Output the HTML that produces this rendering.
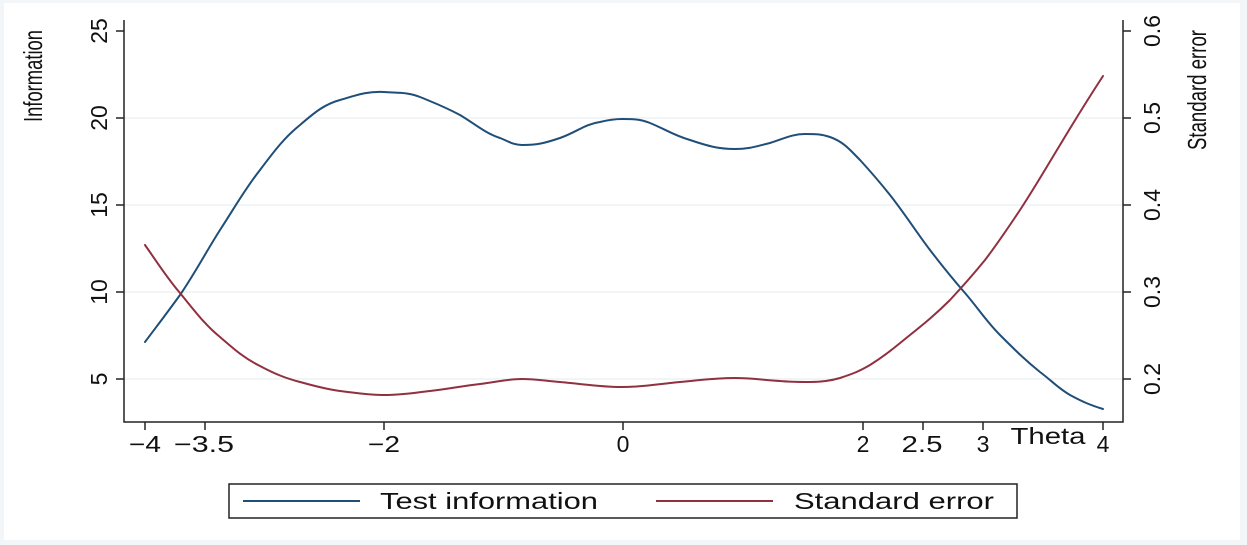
<!DOCTYPE html>
<html><head><style>body{margin:0;background:#fff}svg{display:block}</style></head><body>
<svg width="1247" height="545" xmlns="http://www.w3.org/2000/svg" font-family="Liberation Sans, sans-serif">
<rect x="0" y="0" width="1247" height="545" fill="#f3f6f8"/>
<rect x="4" y="3" width="1236" height="537" fill="#fff"/>
<g stroke="#eef2f4" stroke-width="1.5">
<line x1="124" y1="118" x2="1122" y2="118"/><line x1="124" y1="205" x2="1122" y2="205"/>
<line x1="124" y1="292" x2="1122" y2="292"/><line x1="124" y1="379" x2="1122" y2="379"/>
</g>
<g stroke="#222" stroke-width="1.5" fill="none">
<polyline points="124,20 124,422 1123,422 1123,20"/>
<line x1="116" y1="31" x2="124" y2="31"/><line x1="116" y1="118" x2="124" y2="118"/><line x1="116" y1="205" x2="124" y2="205"/><line x1="116" y1="292" x2="124" y2="292"/><line x1="116" y1="379" x2="124" y2="379"/>
<line x1="1123" y1="31" x2="1131" y2="31"/><line x1="1123" y1="118" x2="1131" y2="118"/><line x1="1123" y1="205" x2="1131" y2="205"/><line x1="1123" y1="292" x2="1131" y2="292"/><line x1="1123" y1="379" x2="1131" y2="379"/>
<line x1="145" y1="422" x2="145" y2="430"/><line x1="205" y1="422" x2="205" y2="430"/><line x1="384" y1="422" x2="384" y2="430"/><line x1="623" y1="422" x2="623" y2="430"/><line x1="863" y1="422" x2="863" y2="430"/><line x1="923" y1="422" x2="923" y2="430"/><line x1="983" y1="422" x2="983" y2="430"/><line x1="1103" y1="422" x2="1103" y2="430"/>
</g>
<g font-size="23" fill="#111" text-anchor="middle">
<text x="145" y="452" textLength="32" lengthAdjust="spacingAndGlyphs">−4</text><text x="204" y="452" textLength="60" lengthAdjust="spacingAndGlyphs">−3.5</text><text x="384" y="452" textLength="32" lengthAdjust="spacingAndGlyphs">−2</text><text x="623" y="452">0</text><text x="863" y="452">2</text><text x="922" y="452" textLength="41" lengthAdjust="spacingAndGlyphs">2.5</text><text x="983" y="452">3</text><text x="1103" y="452">4</text>
<text x="1048" y="444" textLength="75" lengthAdjust="spacingAndGlyphs">Theta</text>
</g>
<g font-size="23" fill="#111" text-anchor="middle">
<text transform="translate(107,31) rotate(-90)">25</text><text transform="translate(107,118) rotate(-90)">20</text><text transform="translate(107,205) rotate(-90)">15</text><text transform="translate(107,292) rotate(-90)">10</text><text transform="translate(107,379) rotate(-90)">5</text>
<text transform="translate(1160,31) rotate(-90)">0.6</text><text transform="translate(1160,118) rotate(-90)">0.5</text><text transform="translate(1160,205) rotate(-90)">0.4</text><text transform="translate(1160,292) rotate(-90)">0.3</text><text transform="translate(1160,379) rotate(-90)">0.2</text>
<text transform="translate(42,76) rotate(-90)" font-size="26" textLength="92" lengthAdjust="spacingAndGlyphs">Information</text>
<text transform="translate(1206,90) rotate(-90)" font-size="26" textLength="120" lengthAdjust="spacingAndGlyphs">Standard error</text>
</g>
<g fill="none" stroke-width="2" stroke-linecap="round">
<path stroke="#1f4e79" d="M145,342 C160,322 167,313 180,295 C195,273 206,252 220,230 C235,207 245,189 260,170 C275,150 285,137 300,125 C315,112 325,104 340,100 C357,95 368,91 384,92 C398,93 408,92 420,97 C437,104 443,106 460,115 C475,124 485,133 500,138 C508,141 513,145 522,145 C538,145 545,143 560,138 C577,132 585,124 600,122 C608,120 614,119 622,119 C633,119 640,119 650,123 C667,130 673,135 690,140 C708,146 718,149 735,149 C750,149 757,146 770,143 C783,139 792,134 805,134 C816,134 821,134 830,137 C844,142 850,150 860,160 C872,173 878,180 890,195 C905,214 917,233 930,250 C943,267 951,277 965,293 C978,308 986,321 1000,335 C1015,350 1025,360 1040,372 C1052,381 1058,388 1070,395 C1083,402 1090,405 1103,409"/>
<path stroke="#903040" d="M145,245 C157,262 167,278 180,293 C194,310 205,325 220,337 C235,350 244,358 260,366 C275,374 285,378 300,382 C315,386 325,389 340,391 C357,393 367,395 384,395 C402,395 412,393 430,391 C448,389 462,386 480,384 C497,382 507,379 522,379 C537,379 545,381 560,382 C583,384 600,387 622,387 C645,387 658,384 680,382 C702,380 715,378 735,378 C752,378 763,380 780,381 C791,382 799,382 810,382 C822,382 830,381 840,378 C852,374 858,372 870,365 C886,355 895,347 910,335 C925,323 936,314 950,300 C963,286 972,276 985,260 C998,243 1008,228 1020,210 C1035,187 1046,168 1060,145 C1075,120 1088,99 1103,76"/>
</g>
<rect x="229" y="484" width="788" height="34" fill="#fff" stroke="#222" stroke-width="1.5"/>
<line x1="243" y1="501" x2="360" y2="501" stroke="#1f4e79" stroke-width="2"/>
<line x1="656" y1="501" x2="773" y2="501" stroke="#903040" stroke-width="2"/>
<g font-size="23" fill="#111"><text x="380" y="509" textLength="218" lengthAdjust="spacingAndGlyphs">Test information</text><text x="794" y="509" textLength="200" lengthAdjust="spacingAndGlyphs">Standard error</text></g>
</svg>
</body></html>
